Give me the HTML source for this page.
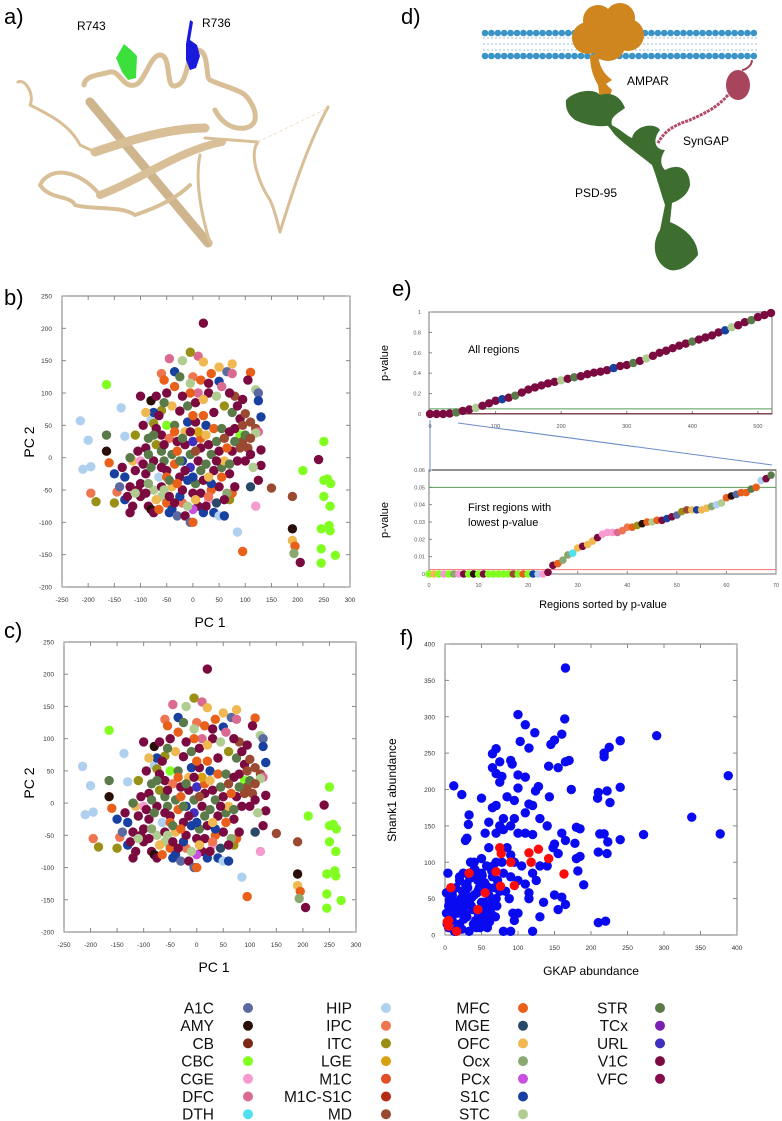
<!DOCTYPE html>
<html><head><meta charset="utf-8"><style>
html,body{margin:0;padding:0;background:#fff;}
svg{display:block;font-family:"Liberation Sans",sans-serif;}
</style></head><body>
<svg id="fig" width="782" height="1121" viewBox="0 0 782 1121">
<g>
<text x="4" y="24" font-size="22">a)</text>
<text x="77" y="30" font-size="12">R743</text>
<text x="202" y="27" font-size="12">R736</text>
<g fill="none" stroke="#d9bf97" stroke-linecap="round" stroke-linejoin="round">
<path d="M90,102 L208,243" stroke-width="9" stroke="#cfb58e"/>
<path d="M84,85 C85,75 100,75 110,72 C120,70 122,88 135,85 C145,82 150,55 160,55 C172,55 165,88 175,86 C190,84 185,52 197,50 C210,50 205,78 210,80 C220,85 240,90 245,95 C255,105 262,125 245,128 C230,130 220,120 215,110" stroke-width="5"/>
<path d="M95,152 C130,140 170,128 205,128" stroke-width="9"/>
<path d="M100,195 C140,180 180,150 222,142" stroke-width="8"/>
<path d="M18,82 C25,78 35,95 30,105 C50,115 70,125 80,145 L95,152" stroke-width="3"/>
<path d="M100,195 C80,170 50,165 40,185 C50,200 70,195 75,205 C90,210 120,205 135,215 C150,210 175,200 190,185" stroke-width="4"/>
<path d="M205,138 L258,142 C248,155 260,185 270,200 C275,210 278,225 280,232 C290,200 305,150 328,107" stroke-width="3"/>
<path d="M200,155 C195,180 200,210 210,243" stroke-width="3"/>
<path d="M258,142 L328,108" stroke="#eee2cc" stroke-width="1" stroke-dasharray="3,3"/>
</g>
<path d="M116,58 L124,44 L131,50 L137,56 L136,78 L128,80 L122,72 Z" fill="#3ce03c"/>
<path d="M186,44 L190,20 L193,22 L190,40 L197,45 L200,56 L196,68 L190,70 L186,60 Z" fill="#1a1adc"/>
</g>
<g>
<text x="401" y="24" font-size="22">d)</text>
<g id="membrane"></g>
<path d="M598,55 C600,70 606,75 612,80 L606,84 L612,90 L606,108 L600,100 L598,85 C592,75 590,65 590,55 Z" fill="#d0861c"/>
<g fill="#cf861e">
<circle cx="598" cy="20" r="15"/><circle cx="620" cy="18" r="15"/><circle cx="588" cy="38" r="16"/><circle cx="628" cy="35" r="16"/><circle cx="608" cy="43" r="18"/>
</g>
<g fill="#3d6e30">
<path d="M566,100 C575,90 595,88 600,95 C610,92 620,95 625,108 C615,115 610,118 612,125 C600,128 585,125 575,120 C568,115 565,108 566,100 Z"/>
<path d="M605,122 C620,128 625,135 632,138 C635,125 655,122 660,130 C652,140 655,150 665,150 C660,158 660,165 665,170 C680,162 690,170 690,185 C688,195 680,200 672,203 L670,222 C685,228 698,240 698,255 C690,265 680,272 670,270 C655,265 650,245 660,230 L665,205 C660,190 656,175 652,165 C640,155 625,145 615,135 Z"/>
</g>
<path d="M752,60 C752,66 745,70 742,70" stroke="#a0405a" stroke-width="2" fill="none"/>
<ellipse cx="738" cy="85" rx="12" ry="15" fill="#a8445c"/>
<path d="M728,95 C715,110 700,115 690,120 C675,125 665,130 658,143" stroke="#b24a68" stroke-width="3" fill="none" stroke-dasharray="3,1"/>
<text x="627" y="85" font-size="12">AMPAR</text>
<text x="683" y="145" font-size="12">SynGAP</text>
<text x="575" y="197" font-size="12">PSD-95</text>
</g>
<text x="4" y="305" font-size="22">b)</text>
<text x="392" y="296" font-size="22">e)</text>
<text x="4" y="638" font-size="22">c)</text>
<text x="400" y="645" font-size="22">f)</text>
<g id="pb"></g>
<g id="pc"></g>
<g id="pe"></g>
<g id="pf"></g>
<g id="legend"></g>
</svg>
<script>
const regions=["A1C","AMY","CB","CBC","CGE","DFC","DTH","HIP","IPC","ITC","LGE","M1C","M1C-S1C","MD","MFC","MGE","OFC","Ocx","PCx","S1C","STC","STR","TCx","URL","V1C","VFC"];
const regionColors=["#5a6aa0","#2a0f08","#7a2a14","#80ff20","#f79ad0","#db6a90","#50e0f0","#b0d0f0","#ee7550","#9a9015","#d9a010","#e24e25","#b52a15","#9a4a30","#e8601a","#2a4868","#f0b850","#8aa870","#c850e0","#1840a0","#b0cc90","#5a7a4a","#7a20b0","#4030c0","#7a0a40","#8a0a50"];
const pcaPts="20,208,V1C;-165,113,CBC;-215,57,HIP;-200,27,HIP;-210,-18,HIP;-195,-14,HIP;-137,77,HIP;-165,35,STR;-165,10,AMY;-160,-8,MFC;-130,33,HIP;-195,-55,IPC;-145,-53,IPC;-185,-68,ITC;-150,-70,ITC;-130,-65,S1C;-100,95,V1C;-80,58,HIP;-75,53,ITC;-115,-5,OFC;-100,-5,CGE;-75,-5,V1C;-90,-25,V1C;-100,-40,V1C;-100,-60,V1C;-85,-75,V1C;-80,-80,AMY;-75,-85,V1C;-60,-60,STC;-50,-70,MFC;-45,-85,S1C;-40,-80,S1C;-30,-90,A1C;-20,-70,IPC;-15,-90,V1C;-5,-100,A1C;0,-100,MFC;10,-75,V1C;20,-85,S1C;30,-65,CGE;40,-85,S1C;50,-90,HIP;60,-90,S1C;70,-65,ITC;75,-55,MFC;85,-115,HIP;95,-145,MFC;110,-45,MGE;120,-75,CGE;150,-47,MD;190,-60,MD;190,-110,AMY;190,-128,OFC;195,-137,MFC;193,-148,Ocx;205,-162,V1C;210,-20,CBC;240,-3,V1C;250,25,CBC;250,-35,CBC;257,-33,CBC;263,-40,CBC;250,-60,CBC;262,-75,CBC;245,-110,CBC;260,-105,CBC;262,-113,CBC;245,-141,CBC;272,-151,CBC;245,-163,CBC;-45,153,DFC;-20,150,STC;-5,163,ITC;10,157,DFC;20,148,OFC;-35,133,S1C;-60,130,IPC;-55,120,MFC;-25,125,STR;0,125,IPC;15,120,MFC;30,115,V1C;50,118,S1C;65,133,A1C;75,145,OFC;75,130,DFC;110,132,MFC;105,120,V1C;120,105,STC;125,100,A1C;125,88,S1C;130,63,S1C;-5,115,STC;10,100,DFC;30,100,V1C;45,95,STC;80,95,MD;95,90,V1C;-50,100,V1C;-40,80,OFC;-60,73,ITC;-80,88,AMY;-75,70,S1C;-65,65,V1C;-25,72,V1C;-10,80,STR;5,85,V1C;20,65,MFC;40,70,V1C;60,80,ITC;75,70,STR;90,60,V1C;100,68,MD;110,55,MD;120,45,MD;125,40,DFC;120,38,STC;-95,50,V1C;-70,45,V1C;-50,50,CBC;-35,50,STR;-10,55,S1C;5,55,V1C;25,50,S1C;40,45,MFC;55,45,STR;70,40,V1C;90,35,CBC;95,25,MD;105,15,MD;110,5,V1C;130,12,V1C;130,-12,V1C;125,-35,V1C;-110,35,ITC;-90,15,V1C;-70,20,ITC;-85,5,STR;-60,35,V1C;-45,30,IPC;-30,25,V1C;-15,20,V1C;0,25,URL;15,30,MFC;30,20,V1C;45,25,STR;60,30,MD;75,10,V1C;85,-5,V1C;100,-5,V1C;115,-15,STC;-110,-20,V1C;-95,-10,V1C;-80,-15,STR;-65,-30,HIP;-50,-20,V1C;-35,-10,MFC;-20,-5,S1C;-5,-15,URL;10,-5,V1C;25,-10,STR;40,-20,V1C;55,-15,STR;70,-25,V1C;-120,-45,V1C;-105,-50,V1C;-75,-50,STC;-60,-45,V1C;-40,-45,OFC;-25,-30,V1C;-10,-35,S1C;5,-40,STR;20,-35,V1C;35,-50,MFC;50,-45,V1C;65,-55,Ocx;-120,-85,V1C;-70,-65,OFC;-25,-60,S1C;0,-55,V1C;15,-55,V1C;30,-60,IPC;45,-70,MGE;-130,-30,S1C;-140,-45,A1C;-55,-5,STR;-40,5,STR;35,5,STR;60,-5,OFC;-15,40,OFC;10,40,LGE;80,25,STR;-5,100,MFC;50,140,OFC;-50,-30,MFC;0,-80,PCx;-30,10,MFC;-150,-25,S1C;-135,-15,V1C;-125,-60,V1C;-115,-75,V1C;-110,-55,STC;-90,-55,V1C;-85,-40,Ocx;-65,-80,MFC;-55,-50,STC;-45,-60,V1C;-35,-70,V1C;-20,-50,V1C;-10,-75,STC;5,-65,OFC;25,-75,V1C;35,-40,S1C;55,-30,MFC;60,-65,V1C;80,-45,V1C;-85,30,STR;-75,35,STR;-60,10,STR;-55,20,V1C;-35,40,MFC;-20,30,STR;-5,40,V1C;15,15,V1C;25,35,OFC;50,10,V1C;65,15,MFC;80,45,V1C;95,50,MD;100,35,STR;85,80,V1C;70,100,V1C;55,110,DFC;35,130,MFC;20,90,OFC;0,65,MFC;-20,95,V1C;-35,110,MFC;-55,85,STR;-70,95,V1C;-90,70,OFC;-60,-15,V1C;-45,-35,STR;-30,-40,MFC;-15,-20,V1C;0,-30,S1C;15,-20,STR;30,-30,OFC;45,-5,V1C;-5,5,STR;-25,-5,STR;5,10,MD;70,-10,STR;90,15,MD;110,30,MD;-105,10,V1C;-120,0,STR";
const pcX=[],pcY=[],pcR=[];
pcaPts.split(";").forEach(s=>{const p=s.split(",");pcX.push(+p[0]);pcY.push(+p[1]);pcR.push(p[2]);});
const pcXTicks=[-250,-200,-150,-100,-50,0,50,100,150,200,250,300];
const pcYTicks=[-200,-150,-100,-50,0,50,100,150,200,250];
const eRanks=[0,10,20,30,40,50,60,70,80,90,100,110,120,130,140,150,160,170,180,190,200,210,220,230,240,250,260,270,280,290,300,310,320,330,340,350,360,370,380,390,400,410,420,430,440,450,460,470,480,490,500,510,520];
const eP=[0,0,0,0.005,0.015,0.03,0.045,0.06,0.08,0.105,0.13,0.145,0.16,0.18,0.21,0.24,0.26,0.28,0.3,0.315,0.33,0.345,0.36,0.37,0.39,0.405,0.415,0.43,0.45,0.47,0.48,0.5,0.52,0.545,0.57,0.6,0.62,0.645,0.67,0.69,0.71,0.73,0.75,0.77,0.8,0.82,0.85,0.87,0.9,0.92,0.95,0.97,0.99];
const lowP=[0,0,0,0,0,0,0,0,0,0,0,0,0,0,0,0,0,0,0,0,0,0,0,0,0.001,0.005,0.006,0.008,0.011,0.012,0.015,0.016,0.017,0.019,0.021,0.023,0.024,0.024,0.024,0.025,0.027,0.027,0.028,0.029,0.03,0.03,0.031,0.031,0.032,0.033,0.034,0.036,0.037,0.037,0.037,0.037,0.038,0.039,0.04,0.041,0.044,0.045,0.046,0.047,0.047,0.049,0.05,0.054,0.055,0.057];
const lowC=["CBC","OFC","CBC","CGE","CBC","Ocx","CGE","V1C","CBC","AMY","CBC","V1C","CBC","CBC","CBC","CBC","CBC","MD","CBC","MFC","CBC","S1C","HIP","CGE","V1C","V1C","MFC","Ocx","Ocx","DTH","OFC","V1C","OFC","OFC","V1C","CGE","CGE","CGE","DFC","IPC","IPC","MFC","ITC","AMY","MFC","STC","MFC","V1C","S1C","V1C","A1C","ITC","MD","OFC","S1C","OFC","OFC","Ocx","HIP","STC","MFC","AMY","A1C","MFC","MFC","STR","MFC","HIP","V1C","STR"];
const fX=[165,100,110,164,123,290,103,115,160,150,145,70,65,240,225,218,218,142,155,65,75,90,92,70,78,75,100,110,170,165,12,23,100,124,128,143,173,210,222,209,226,240,388,338,377,272,240,212,218,223,210,222,180,185,178,190,182,180,185,160,165,150,148,155,140,130,120,115,110,95,90,80,70,60,55,50,65,70,85,95,33,32,30,28,85,90,95,105,120,125,130,140,150,160,165,155,130,135,115,115,100,95,90,80,120,210,220,100,110,120,80,75,60,40,50,70,80,90,100,110,5,10,15,20,25,30,35,40,45,50,55,60,65,5,10,15,20,25,30,35,40,45,50,55,60,65,75,70,2,8,12,18,22,28,32,38,42,48,52,58,62,68,3,13,23,33,43,53,27,35,47,17,7,30,40,50,60,20,25,45,57,78,72,4,9,14,19,24,29,34,39,44,49,54,59,64,69,6,11,16,21,26,31,36,41,46,51,56,61,66,2,15,28,37,52,63,71,83,88,93,66,58,44];
const fY=[367,303,289,297,278,274,266,257,276,268,262,256,249,267,258,250,245,232,230,230,238,240,235,222,218,210,220,217,240,238,205,193,202,198,204,190,200,196,198,188,182,203,219,162,139,138,131,139,139,128,114,112,148,146,126,69,88,105,108,140,130,125,120,112,150,160,178,180,168,160,150,145,140,155,140,188,175,178,190,185,165,152,133,130,120,110,100,95,85,75,95,95,55,52,42,35,25,45,50,58,30,20,5,5,5,17,19,140,140,138,160,150,120,100,105,100,85,80,75,70,10,20,30,15,40,25,50,35,60,45,70,55,80,40,55,65,75,85,70,80,90,75,85,30,20,40,60,50,30,25,35,45,50,60,45,35,20,10,20,10,40,65,15,5,8,5,10,45,55,100,65,30,25,50,55,70,65,80,35,20,95,100,75,85,30,45,12,60,28,78,15,58,22,72,42,88,25,48,62,38,48,22,65,40,90,28,82,35,18,48,58,8,70,52,12,30,40,60,50,30,95,25,78];
const redX=[8,3,5,5,16,33,45,55,70,75,77,76,90,95,115,118,128,142,163];
const redY=[65,18,12,20,5,85,35,58,87,120,112,67,100,68,113,100,118,105,84];
const fTicks=[0,50,100,150,200,250,300,350,400];
const NS="http://www.w3.org/2000/svg";
function mk(parent,tag,attrs,txt){const e=document.createElementNS(NS,tag);for(const k in attrs)e.setAttribute(k,attrs[k]);if(txt!==undefined)e.textContent=txt;parent.appendChild(e);return e;}
function colorOf(r){return regionColors[regions.indexOf(r)];}
function lin(d0,d1,r0,r1){return v=>r0+(v-d0)*(r1-r0)/(d1-d0);}
function frame(g,x0,y0,x1,y1){
  const b=mk(g,"rect",{x:x0,y:y0,width:x1-x0,height:y1-y0,fill:"none",stroke:"#777","stroke-width":1});
  
  
}
function pca(id,L,R,top,bot,ylY,xlY){
  const g=document.getElementById(id);
  const sx=lin(-250,300,L,R),sy=lin(-200,250,bot,top);
  frame(g,L,top,R,bot);
  pcXTicks.forEach(t=>{const x=sx(t);
    mk(g,"line",{x1:x,y1:bot,x2:x,y2:bot-4,stroke:"#888"});mk(g,"line",{x1:x,y1:top,x2:x,y2:top+4,stroke:"#888"});
    const tx=mk(g,"text",{x:x,y:bot+15,"font-size":6.5,"text-anchor":"middle",fill:"#333"},t);
    
    });
  pcYTicks.forEach(t=>{const y=sy(t);
    mk(g,"line",{x1:L,y1:y,x2:L+4,y2:y,stroke:"#888"});mk(g,"line",{x1:R,y1:y,x2:R-4,y2:y,stroke:"#888"});
    const tx=mk(g,"text",{x:L-10,y:y+2.5,"font-size":6.5,"text-anchor":"end",fill:"#333"},t);
    
    });
  for(let i=0;i<pcX.length;i++){
    const c=mk(g,"circle",{cx:sx(pcX[i]),cy:sy(pcY[i]),r:4.7,fill:colorOf(pcR[i])});
    
    
  }
  const yl=mk(g,"text",{x:0,y:0,"font-size":14,"text-anchor":"middle",transform:"translate(34,"+ylY+") rotate(-90)"},"PC 2");
  
  
  const xl=mk(g,"text",{x:(L+R)/2+4,y:xlY,"font-size":14,"text-anchor":"middle"},"PC 1");
  
  
}
pca("pb",62,350,296,587,442,627);
pca("pc",64,356,642,932,783,972);
// panel e
(function(){
  const g=document.getElementById("pe");
  const L=429,R=772,T=312,B=414;
  const sx=lin(0,520,L+1,R-1),sy=lin(0,1,B,T);
  frame(g,L,T,R,B);
  [0,100,200,300,400,500].forEach(t=>{const tx=mk(g,"text",{x:sx(t),y:B+14,"font-size":5.5,"text-anchor":"middle",fill:"#555"},t);
    
    
    mk(g,"line",{x1:sx(t),y1:B,x2:sx(t),y2:B-3,stroke:"#888"});});
  [0,0.2,0.4,0.6,0.8,1].forEach(t=>{const tx=mk(g,"text",{x:L-8,y:sy(t)+2,"font-size":5.5,"text-anchor":"end",fill:"#555"},t);
    
    
    mk(g,"line",{x1:L,y1:sy(t),x2:L+3,y2:sy(t),stroke:"#888"});});
  mk(g,"line",{x1:L,y1:sy(0.05),x2:R,y2:sy(0.05),stroke:"#5a9a5a"});
  mk(g,"line",{x1:L,y1:sy(0.003),x2:R,y2:sy(0.003),stroke:"#6a0a20"});
  for(let i=0;i<eRanks.length;i++){
    const col=(i%9==4)?"#5a7a4a":(i%13==7)?"#b0cc90":(i%17==11)?"#1840a0":"#7a0a40";
    const c=mk(g,"circle",{cx:sx(eRanks[i]),cy:sy(eP[i]),r:4.2,fill:col});
    
    
  }
  const t1=mk(g,"text",{x:468,y:353,"font-size":11},"All regions");
  
  
  const yl=mk(g,"text",{x:0,y:0,"font-size":11,"text-anchor":"middle",transform:"translate(388,363) rotate(-90)"},"p-value");
  
  
  mk(g,"line",{x1:430,y1:420,x2:430,y2:472,stroke:"#6a8cc8","stroke-width":1});
  mk(g,"line",{x1:458,y1:423,x2:772,y2:465,stroke:"#6a8cc8","stroke-width":1});
  const L2=429,R2=776,T2=470,B2=574;
  const sx2=lin(0,70,L2,R2),sy2=lin(0,0.06,B2,T2);
  frame(g,L2,T2,R2,B2);
  mk(g,"line",{x1:L2,y1:T2,x2:R2,y2:T2,stroke:"#222"});
  [0,10,20,30,40,50,60,70].forEach(t=>{const tx=mk(g,"text",{x:sx2(t),y:B2+13,"font-size":5.5,"text-anchor":"middle",fill:"#555"},t);
    
    
    mk(g,"line",{x1:sx2(t),y1:B2,x2:sx2(t),y2:B2-3,stroke:"#888"});});
  [0,0.01,0.02,0.03,0.04,0.05,0.06].forEach(t=>{const tx=mk(g,"text",{x:L2-4,y:sy2(t)+2,"font-size":5.5,"text-anchor":"end",fill:"#555"},t);
    
    
    mk(g,"line",{x1:L2,y1:sy2(t),x2:L2+3,y2:sy2(t),stroke:"#888"});});
  mk(g,"line",{x1:L2,y1:sy2(0.05),x2:R2,y2:sy2(0.05),stroke:"#5a9a5a"});
  mk(g,"line",{x1:L2,y1:sy2(0.0025),x2:R2,y2:sy2(0.0025),stroke:"#ff7070"});
  for(let i=0;i<lowP.length;i++){
    const c=mk(g,"circle",{cx:sx2(i),cy:sy2(lowP[i]),r:3.8,fill:colorOf(lowC[i])});
    
    
  }
  const t2=mk(g,"text",{x:468,y:511,"font-size":11},"First regions with");
  
  
  const t3=mk(g,"text",{x:468,y:526,"font-size":11},"lowest p-value");
  
  
  const yl2=mk(g,"text",{x:0,y:0,"font-size":11,"text-anchor":"middle",transform:"translate(388,520) rotate(-90)"},"p-value");
  
  
  const xl=mk(g,"text",{x:603,y:608,"font-size":11,"text-anchor":"middle"},"Regions sorted by p-value");
  
  
})();
// panel f
(function(){
  const g=document.getElementById("pf");
  const L=445,R=737,T=644,B=935;
  const sx=lin(0,400,L,R),sy=lin(0,400,B,T);
  frame(g,L,T,R,B);
  fTicks.forEach(t=>{
    mk(g,"line",{x1:sx(t),y1:B,x2:sx(t),y2:B-4,stroke:"#888"});mk(g,"line",{x1:sx(t),y1:T,x2:sx(t),y2:T+4,stroke:"#888"});
    mk(g,"line",{x1:L,y1:sy(t),x2:L+4,y2:sy(t),stroke:"#888"});mk(g,"line",{x1:R,y1:sy(t),x2:R-4,y2:sy(t),stroke:"#888"});
    const a=mk(g,"text",{x:sx(t),y:B+15,"font-size":6.5,"text-anchor":"middle",fill:"#333"},t);
    
    
    const b=mk(g,"text",{x:L-10,y:sy(t)+2.5,"font-size":6.5,"text-anchor":"end",fill:"#333"},t);
    
    
  });
  for(let i=0;i<fX.length;i++){
    const c=mk(g,"circle",{cx:sx(fX[i]),cy:sy(fY[i]),r:4.7,fill:"#0a0af0"});
    
    
  }
  for(let i=0;i<redX.length;i++){
    const c=mk(g,"circle",{cx:sx(redX[i]),cy:sy(redY[i]),r:4.7,fill:"#ff0a0a"});
    
    
  }
  const yl=mk(g,"text",{x:0,y:0,"font-size":12,"text-anchor":"middle",transform:"translate(396,790) rotate(-90)"},"Shank1 abundance");
  
  
  const xl=mk(g,"text",{x:591,y:975,"font-size":12,"text-anchor":"middle"},"GKAP abundance");
  
  
})();
// membrane
(function(){
  const g=document.getElementById("membrane");
  mk(g,"path",{d:"M483,38 L757,38 M483,44 L757,44 M483,50 L757,50",stroke:"#9cc0dc","stroke-width":1,"stroke-dasharray":"2,2"});
  for(let x=485;x<=756;x+=6.4){
    mk(g,"circle",{cx:x,cy:33,r:3.3,fill:"#3a94c8"});
    mk(g,"circle",{cx:x,cy:56,r:3.3,fill:"#3a94c8"});
  }
})();
// legend
(function(){
  const g=document.getElementById("legend");
  const colRight=[214,352,490,628],dotX=[248,386,523,660];
  const perCol=[7,7,7,5];
  let k=0;
  for(let c=0;c<4;c++){for(let r=0;r<perCol[c];r++){
    const y=1008+r*17.7;
    const t=mk(g,"text",{x:colRight[c],y:y+5.5,"font-size":15.5,"text-anchor":"end",fill:"#111"},regions[k]);
    
    
    const d=mk(g,"circle",{cx:dotX[c],cy:y,r:5,fill:regionColors[k]});
    
    
    k++;
  }}
})();
</script>
</body></html>
